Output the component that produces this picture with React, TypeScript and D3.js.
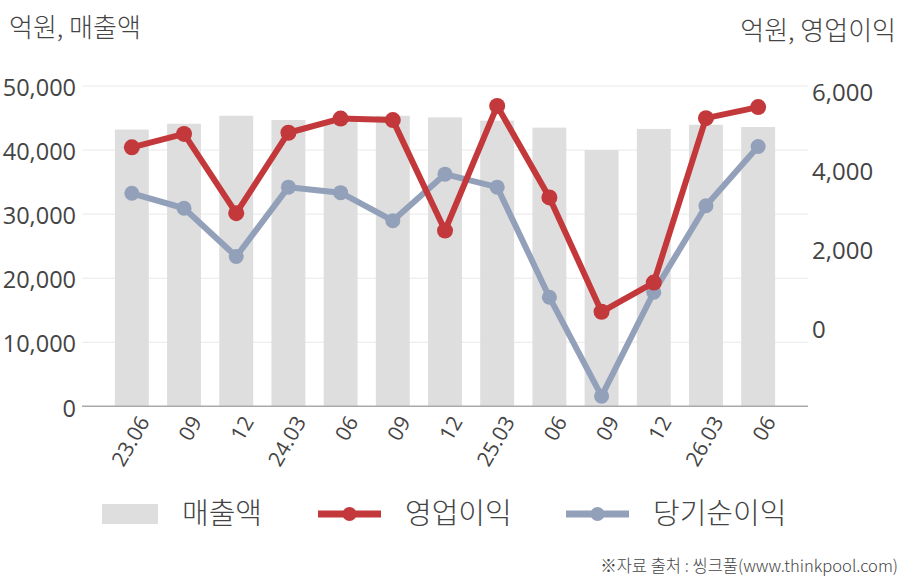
import { useEffect, useRef } from 'react'
import * as d3 from 'd3'

const categories = ['23.06', '09', '12', '24.03', '06', '09', '12', '25.03', '06', '09', '12', '26.03', '06']
const sales = [43200, 44100, 45350, 44700, 44500, 45350, 45100, 44600, 43500, 40000, 43300, 43950, 43600]
const opProfit = [4610, 4950, 2940, 4980, 5340, 5300, 2500, 5660, 3340, 440, 1180, 5350, 5630]
const netProfit = [3445, 3065, 1840, 3600, 3460, 2750, 3930, 3600, 810, -1700, 935, 3130, 4630]
const leftTicks = [0, 10000, 20000, 30000, 40000, 50000]
const rightTicks = [0, 2000, 4000, 6000]

const RED = '#c3383a'
const BLUE = '#93a0ba'
const BAR = '#dedede'
const TEXT = '#444'
const FONT = '"Open Sans", "Noto Sans CJK KR", sans-serif'
const KFONT = '"Noto Sans CJK KR", "Open Sans", sans-serif'

export default function App() {
  const svgRef = useRef<SVGSVGElement>(null)

  useEffect(() => {
    if (!svgRef.current) return
    const svg = d3.select(svgRef.current)
    svg.selectAll('*').remove()

    const W = 908
    const H = 580
    const left = 82
    const right = 808
    const top = 86
    const bottom = 406.3

    const x = d3.scaleBand<string>()
      .domain(categories.map((_, i) => String(i)))
      .range([left, right])
      .paddingInner(0.35)
      .paddingOuter(0.63)
    const cx = (i: number) => (x(String(i)) ?? 0) + x.bandwidth() / 2

    const yL = d3.scaleLinear().domain([0, 50000]).range([bottom, top])
    const yR = d3.scaleLinear().domain([-1957, 6165]).range([bottom, top])

    // Grid lines
    svg.append('g').selectAll('line').data(leftTicks.slice(1)).join('line')
      .attr('x1', left).attr('x2', right)
      .attr('y1', d => yL(d)).attr('y2', d => yL(d))
      .attr('stroke', '#e8e8e8').attr('stroke-width', 1)

    // Bars
    svg.append('g').selectAll('rect').data(sales).join('rect')
      .attr('x', (_, i) => x(String(i)) ?? 0)
      .attr('y', d => yL(d))
      .attr('width', x.bandwidth())
      .attr('height', d => bottom - yL(d))
      .attr('fill', BAR)

    // Baseline
    svg.append('line')
      .attr('x1', left).attr('x2', right).attr('y1', bottom).attr('y2', bottom)
      .attr('stroke', '#aaa').attr('stroke-width', 1.5)

    // Left axis labels
    svg.append('g').selectAll('text').data(leftTicks).join('text')
      .attr('x', 76).attr('y', d => yL(d) + 2)
      .attr('dy', '0.35em')
      .attr('text-anchor', 'end')
      .attr('font-family', FONT).attr('font-size', 23.5).attr('fill', TEXT)
      .text(d => d3.format(',')(d))

    // Right axis labels
    svg.append('g').selectAll('text').data(rightTicks).join('text')
      .attr('x', 812).attr('y', d => yR(d))
      .attr('dy', '0.35em')
      .attr('text-anchor', 'start')
      .attr('font-family', FONT).attr('font-size', 24).attr('fill', TEXT)
      .text(d => d3.format(',')(d))

    // X labels
    svg.append('g').selectAll('text').data(categories).join('text')
      .attr('transform', (_, i) => `translate(${cx(i) + 12},${418}) rotate(-60)`)
      .attr('text-anchor', 'end')
      .attr('dy', '0.35em')
      .attr('font-family', FONT).attr('font-size', 21).attr('fill', TEXT)
      .text(d => d)

    // Lines
    const drawSeries = (vals: number[], color: string, r: number) => {
      const line = d3.line<number>().x((_, i) => cx(i)).y(d => yR(d))
      svg.append('path').datum(vals)
        .attr('d', line)
        .attr('fill', 'none').attr('stroke', color)
        .attr('stroke-width', 6).attr('stroke-linejoin', 'round')
      svg.append('g').selectAll('circle').data(vals).join('circle')
        .attr('cx', (_, i) => cx(i)).attr('cy', d => yR(d))
        .attr('r', r).attr('fill', color)
    }
    drawSeries(netProfit, BLUE, 7.5)
    drawSeries(opProfit, RED, 8)

    // Titles
    svg.append('text').attr('x', 9).attr('y', 37)
      .attr('font-family', KFONT).attr('font-size', 26).attr('font-weight', 300).attr('fill', TEXT)
      .text('억원, 매출액')
    svg.append('text').attr('x', 896).attr('y', 40)
      .attr('text-anchor', 'end')
      .attr('font-family', KFONT).attr('font-size', 26).attr('font-weight', 300).attr('fill', TEXT)
      .text('억원, 영업이익')

    // Legend
    const lg = svg.append('g')
    lg.append('rect').attr('x', 102).attr('y', 504).attr('width', 56).attr('height', 20).attr('fill', BAR)
    lg.append('text').attr('x', 182).attr('y', 514).attr('dy', '0.35em')
      .attr('font-family', KFONT).attr('font-size', 29).attr('font-weight', 300).attr('fill', TEXT).text('매출액')

    const legendLine = (x0: number, color: string, label: string) => {
      lg.append('line').attr('x1', x0).attr('x2', x0 + 63).attr('y1', 514).attr('y2', 514)
        .attr('stroke', color).attr('stroke-width', 7)
      lg.append('circle').attr('cx', x0 + 31.5).attr('cy', 514).attr('r', 7).attr('fill', color)
      lg.append('text').attr('x', x0 + 87).attr('y', 514).attr('dy', '0.35em')
        .attr('font-family', KFONT).attr('font-size', 29).attr('font-weight', 300).attr('fill', TEXT).text(label)
    }
    legendLine(318, RED, '영업이익')
    legendLine(566, BLUE, '당기순이익')

    // Source
    svg.append('text').attr('x', 898).attr('y', 572)
      .attr('text-anchor', 'end')
      .attr('font-family', KFONT).attr('font-size', 16.5).attr('font-weight', 300).attr('fill', TEXT)
      .text('※자료 출처 : 씽크풀(www.thinkpool.com)')

    svg.attr('width', W).attr('height', H)
  }, [])

  return (
    <svg
      ref={svgRef}
      width={908}
      height={580}
      style={{ position: 'absolute', left: 0, top: 0, background: '#fff' }}
    />
  )
}
